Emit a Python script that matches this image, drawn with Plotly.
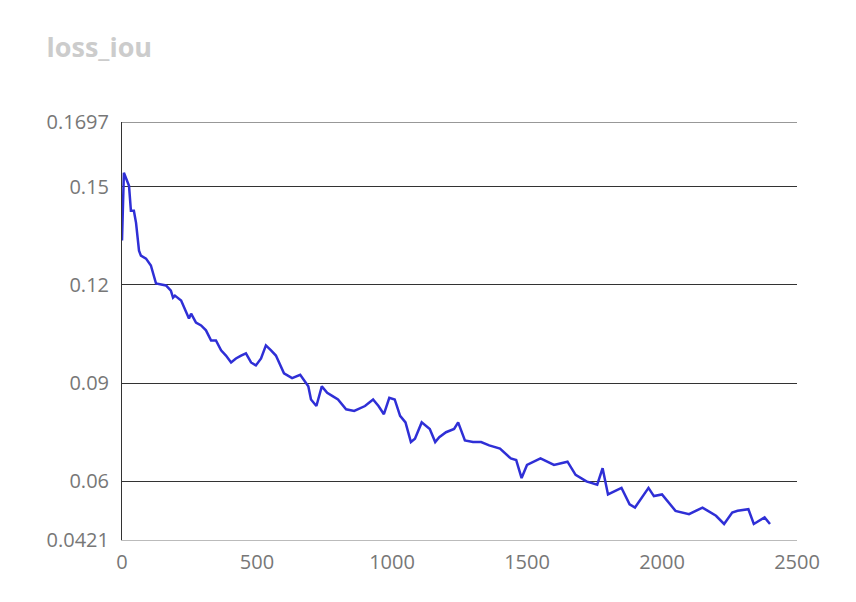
import plotly.graph_objects as go

steps = [0, 7, 19, 26, 33, 44, 52, 63, 70, 89, 107, 126, 163, 181, 189, 196, 219, 237,
         248, 256, 274, 293, 311, 330, 348, 367, 385, 404, 422, 441, 459, 478, 496, 515,
         533, 552, 570, 600, 630, 660, 690, 700, 720, 740, 760, 780, 800, 830, 860, 900,
         930, 950, 970, 990, 1010, 1030, 1050, 1070, 1085, 1110, 1140, 1160, 1175, 1200,
         1230, 1245, 1270, 1300, 1330, 1360, 1400, 1440, 1460, 1480, 1500, 1550, 1600,
         1650, 1680, 1720, 1760, 1780, 1800, 1850, 1880, 1900, 1950, 1970, 2000, 2050,
         2100, 2150, 2200, 2230, 2260, 2280, 2320, 2340, 2380, 2400]
loss = [0.1335, 0.1542, 0.1517, 0.1502, 0.1426, 0.1426, 0.1389, 0.1304, 0.1289, 0.1280,
        0.1259, 0.1204, 0.1198, 0.1182, 0.1161, 0.1167, 0.1152, 0.1121, 0.1097, 0.1112,
        0.1085, 0.1076, 0.1061, 0.1030, 0.1030, 0.1000, 0.0984, 0.0963, 0.0975, 0.0984,
        0.0991, 0.0963, 0.0954, 0.0975, 0.1015, 0.1000, 0.0984, 0.0930, 0.0915, 0.0925,
        0.0890, 0.0850, 0.0830, 0.0890, 0.0870, 0.0860, 0.0850, 0.0820, 0.0815, 0.0830,
        0.0850, 0.0830, 0.0805, 0.0855, 0.0850, 0.0800, 0.0780, 0.0720, 0.0730, 0.0780,
        0.0760, 0.0720, 0.0735, 0.0750, 0.0760, 0.0780, 0.0725, 0.0720, 0.0720, 0.0710,
        0.0700, 0.0670, 0.0665, 0.0610, 0.0650, 0.0670, 0.0650, 0.0660, 0.0620, 0.0600,
        0.0590, 0.0640, 0.0560, 0.0580, 0.0530, 0.0520, 0.0580, 0.0555, 0.0560, 0.0510,
        0.0500, 0.0520, 0.0495, 0.0470, 0.0505, 0.0510, 0.0515, 0.0470, 0.0490, 0.0470]

ytick_vals = [0.0421, 0.06, 0.09, 0.12, 0.15, 0.1697]
ytick_text = ["0.0421", "0.06", "0.09", "0.12", "0.15", "0.1697"]

fig = go.Figure(go.Scatter(x=steps, y=loss, mode="lines",
                           line=dict(color="#2f2fd6", width=2.5)))

fig.update_layout(
    width=856, height=602,
    paper_bgcolor="white", plot_bgcolor="white",
    margin=dict(l=114, r=67, t=114, b=70),
    font=dict(family="Open Sans, sans-serif", color="#777", size=20),
    title=dict(text="<b>loss_iou</b>", x=0.045, y=0.95, xanchor="left",
               font=dict(size=27, color="#cccccc")),
    showlegend=False,
)
fig.update_xaxes(range=[0, 2500], tickvals=[0, 500, 1000, 1500, 2000, 2500],
                 showgrid=False, zeroline=False, showline=True, automargin=False,
                 linecolor="#bbbbbb", linewidth=1, ticks="outside", ticklen=4,
                 tickcolor="white")
fig.update_yaxes(range=[0.0421, 0.1697], tickvals=ytick_vals, ticktext=ytick_text,
                 showgrid=True, gridcolor="#333333", gridwidth=1, zeroline=False,
                 showline=True, linecolor="#333333", linewidth=1, automargin=False,
                 ticks="outside", ticklen=8, tickcolor="white", mirror=False)
fig.add_hline(y=0.1697, line=dict(color="#333333", width=1))

fig.write_html("out.html")
